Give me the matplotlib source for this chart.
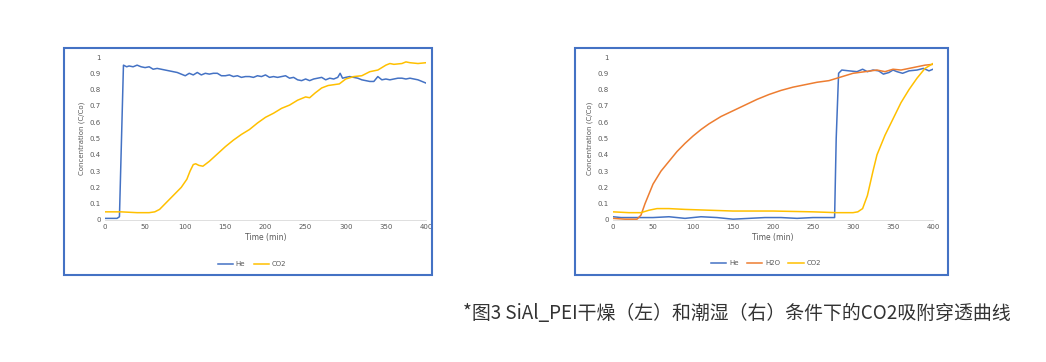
import matplotlib.pyplot as plt
from matplotlib.patches import Rectangle

# ---- data ----
he_dry_t = [0, 5, 10, 15, 18, 23, 27, 30, 35, 40,
            45, 50, 55, 60, 65, 70, 75, 80, 85, 90,
            95, 100, 105, 110, 115, 120, 125, 130, 135, 140,
            145, 150, 155, 160, 165, 170, 175, 180, 185, 190,
            195, 200, 205, 210, 215, 220, 225, 230, 235, 240,
            245, 250, 255, 260, 265, 270, 275, 280, 285, 290,
            293, 296, 300, 305, 310, 315, 320, 325, 330, 335,
            340, 345, 350, 355, 360, 365, 370, 375, 380, 385,
            390, 395, 400]
he_dry = [0.01, 0.01, 0.01, 0.01, 0.02, 0.95, 0.94, 0.945, 0.94, 0.95,
          0.94, 0.935, 0.94, 0.925, 0.93, 0.925, 0.92, 0.915, 0.91, 0.905,
          0.895, 0.885, 0.9, 0.89, 0.905, 0.89, 0.9, 0.895, 0.9, 0.9,
          0.885, 0.885, 0.89, 0.88, 0.885, 0.875, 0.88, 0.88, 0.875, 0.885,
          0.88, 0.89, 0.875, 0.88, 0.875, 0.88, 0.885, 0.87, 0.875, 0.86,
          0.855, 0.865, 0.855, 0.865, 0.87, 0.875, 0.86, 0.87, 0.865, 0.875,
          0.9, 0.87, 0.875, 0.88, 0.875, 0.87, 0.86, 0.855, 0.85, 0.85,
          0.88, 0.86, 0.865, 0.86, 0.865, 0.87, 0.87, 0.865, 0.87, 0.865,
          0.86, 0.85, 0.84]

co2_dry_t = [0, 20, 40, 55, 62, 68, 75, 85, 95, 102,
             106, 110, 113, 117, 122, 130, 140, 150, 160, 170,
             180, 190, 200, 210, 220, 230, 240, 250, 255, 262,
             270, 278, 285, 292, 300, 310, 320, 330, 340, 350,
             355, 360, 370, 375, 380, 390, 400]
co2_dry = [0.05, 0.05, 0.045, 0.045, 0.05, 0.065, 0.1, 0.15, 0.2, 0.25,
           0.3, 0.34, 0.345, 0.335, 0.33, 0.36, 0.405, 0.45, 0.49, 0.525,
           0.555, 0.595, 0.63, 0.655, 0.685, 0.705, 0.735, 0.755, 0.75, 0.78,
           0.81, 0.825, 0.83, 0.835, 0.865, 0.88, 0.885, 0.91, 0.92, 0.95,
           0.96, 0.955, 0.96, 0.97, 0.965, 0.96, 0.965]

he_wet_t = [0, 10, 20, 30, 50, 70, 90, 100, 110, 130,
            150, 170, 190, 210, 230, 250, 265, 277, 279, 282,
            286, 295, 305, 312, 318, 325, 332, 338, 345, 350,
            355, 362, 370, 380, 388, 395, 400]
he_wet = [0.02, 0.015, 0.015, 0.015, 0.015, 0.02, 0.01, 0.015, 0.02, 0.015,
          0.005, 0.01, 0.015, 0.015, 0.01, 0.015, 0.015, 0.015, 0.5, 0.9,
          0.92, 0.915, 0.91, 0.925, 0.91, 0.92, 0.915, 0.895, 0.905, 0.92,
          0.91, 0.9, 0.915, 0.92, 0.93, 0.915, 0.925]

h2o_wet_t = [0, 15, 30, 35, 40, 50, 60, 70, 80, 90,
             100, 110, 120, 135, 150, 165, 180, 195, 210, 225,
             240, 255, 270, 280, 290, 300, 315, 330, 340, 350,
             360, 370, 380, 390, 400]
h2o_wet = [0.01, 0.005, 0.005, 0.03, 0.1, 0.22, 0.3, 0.36, 0.42, 0.47,
           0.515, 0.555, 0.59, 0.635, 0.67, 0.705, 0.74, 0.77, 0.795, 0.815,
           0.83, 0.845, 0.855, 0.87, 0.885, 0.9, 0.91, 0.92, 0.91, 0.925,
           0.92, 0.93, 0.94, 0.95, 0.955]

co2_wet_t = [0, 20, 35, 45, 55, 70, 90, 120, 150, 200,
             250, 280, 300, 306, 312, 318, 325, 330, 340, 350,
             360, 370, 380, 390, 400]
co2_wet = [0.05, 0.045, 0.045, 0.06, 0.07, 0.07, 0.065, 0.06, 0.055, 0.055,
           0.05, 0.045, 0.045, 0.05, 0.07, 0.15, 0.3, 0.4, 0.52, 0.62,
           0.72, 0.8, 0.87, 0.93, 0.96]

x_ticks = [0, 50, 100, 150, 200, 250, 300, 350, 400]
y_ticks = [0, 0.1, 0.2, 0.3, 0.4, 0.5, 0.6, 0.7, 0.8, 0.9, 1]
y_tick_labels = ['0', '0.1', '0.2', '0.3', '0.4', '0.5', '0.6', '0.7', '0.8', '0.9', '1']

caption = '*图3 SiAl_PEI干燥（左）和潮湿（右）条件下的CO2吸附穿透曲线'

C_HE = '#4472C4'
C_H2O = '#ED7D31'
C_CO2 = '#FFC000'
GREY = '#595959'

W, H = 1046, 362
fig = plt.figure(figsize=(W / 100, H / 100), dpi=100)
fig.patch.set_facecolor('white')


def px_box(x0, y0, x1, y1):
    return (x0 / W, 1 - y1 / H, (x1 - x0) / W, (y1 - y0) / H)


def style_axes(ax):
    ax.set_xlim(0, 400)
    ax.set_ylim(0, 1)
    ax.set_xticks(x_ticks)
    ax.set_yticks(y_ticks)
    ax.set_yticklabels(y_tick_labels)
    for s in ['top', 'right', 'left']:
        ax.spines[s].set_visible(False)
    ax.spines['bottom'].set_color('#d9d9d9')
    ax.spines['bottom'].set_linewidth(0.6)
    ax.tick_params(length=0, labelsize=5, labelcolor=GREY, pad=3)
    ax.set_xlabel('Time (min)', fontsize=5.5, color=GREY, labelpad=2)
    ax.set_ylabel('Concentration (C/Co)', fontsize=5, color=GREY, labelpad=3)


# outer frames
for box in [px_box(64, 48, 432, 275), px_box(575, 48, 948, 275)]:
    fig.patches.append(Rectangle((box[0], box[1]), box[2], box[3],
                                 transform=fig.transFigure, fill=False,
                                 edgecolor='#4472C4', linewidth=1.5))

# left: dry
ax1 = fig.add_axes(px_box(105, 57, 426, 220))
ax1.plot(he_dry_t, he_dry, color=C_HE, lw=1.1, label='He')
ax1.plot(co2_dry_t, co2_dry, color=C_CO2, lw=1.1, label='CO2')
style_axes(ax1)
ax1.legend(loc='center', bbox_to_anchor=(252 / W, 1 - 264 / H),
           bbox_transform=fig.transFigure, ncol=2, frameon=False,
           fontsize=5, labelcolor=GREY, handlelength=2.2, columnspacing=1.2,
           handletextpad=0.4)

# right: wet
ax2 = fig.add_axes(px_box(613, 57, 933, 220))
ax2.plot(he_wet_t, he_wet, color=C_HE, lw=1.1, label='He')
ax2.plot(h2o_wet_t, h2o_wet, color=C_H2O, lw=1.1, label='H2O')
ax2.plot(co2_wet_t, co2_wet, color=C_CO2, lw=1.1, label='CO2')
style_axes(ax2)
ax2.legend(loc='center', bbox_to_anchor=(766 / W, 1 - 263 / H),
           bbox_transform=fig.transFigure, ncol=3, frameon=False,
           fontsize=5, labelcolor=GREY, handlelength=2.2, columnspacing=1.2,
           handletextpad=0.4)

fig.text(463 / W, 1 - 313 / H, caption, fontsize=13.6, color='#333333',
         ha='left', va='center', family=['Noto Sans CJK SC', 'DejaVu Sans'])

fig.savefig('out.png', dpi=100, facecolor='white')
